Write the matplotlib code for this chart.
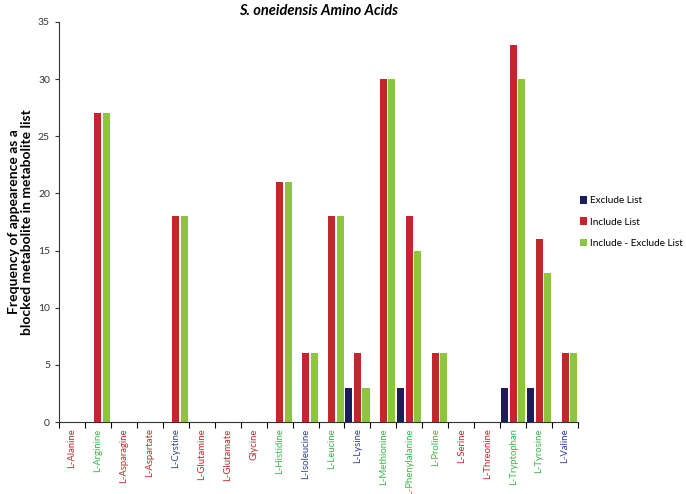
import matplotlib
matplotlib.use("Agg")
import matplotlib.pyplot as plt
import numpy as np

plt.rcParams['font.family'] = ['Lato', 'DejaVu Sans']

categories = ["L-Alanine", "L-Arginine", "L-Asparagine", "L-Aspartate", "L-Cystine",
              "L-Glutamine", "L-Glutamate", "Glycine", "L-Histidine", "L-Isoleucine",
              "L-Leucine", "L-Lysine", "L-Methionine", "L-Phenylalanine", "L-Proline",
              "L-Serine", "L-Threonine", "L-Tryptophan", "L-Tyrosine", "L-Valine"]
exclude = [0, 0, 0, 0, 0, 0, 0, 0, 0, 0, 0, 3, 0, 3, 0, 0, 0, 3, 3, 0]
include = [0, 27, 0, 0, 18, 0, 0, 0, 21, 6, 18, 6, 30, 18, 6, 0, 0, 33, 16, 6]
diff = [0, 27, 0, 0, 18, 0, 0, 0, 21, 6, 18, 3, 30, 15, 6, 0, 0, 30, 13, 6]
label_groups = ["r", "g", "r", "r", "b", "r", "r", "r", "g", "b",
                "g", "b", "g", "g", "g", "r", "r", "g", "g", "b"]

NAVY = "#1d1c5a"
RED = "#c1272d"
GREEN = "#8cc63f"
BLUE = "#2e3f91"
group_colors = {"r": RED, "g": "#39b54a", "b": BLUE}

fig = plt.figure(figsize=(6.86, 4.94), dpi=100)
ax = fig.add_axes([0.086, 0.1457, 0.7566, 0.8098])

x = np.arange(len(categories))
w = 0.27
ax.bar(x - 0.34, exclude, w, color=NAVY, label="Exclude List")
ax.bar(x, include, w, color=RED, label="Include List")
ax.bar(x + 0.33, diff, w, color=GREEN, label="Include - Exclude List")

ax.set_xlim(-0.5, len(categories) - 0.5)
ax.set_ylim(0, 35)
ax.set_yticks(np.arange(0, 36, 5))
ax.tick_params(axis='y', labelsize=7.5, length=3, colors='#333333')
ax.set_xticks(np.arange(-0.5, len(categories), 1.0))
ax.set_xticklabels([])
ax.tick_params(axis='x', length=4)
for i, (c, g) in enumerate(zip(categories, label_groups)):
    ax.text(i, -0.55, c, rotation=90, ha='center', va='top', fontsize=6.8,
            color=group_colors[g])
for s in ['top', 'right']:
    ax.spines[s].set_visible(False)
ax.spines['left'].set_color('#333333')
ax.spines['bottom'].set_color('#333333')

ax.set_ylabel("Frequency of appearence as a\nblocked metabolite in metabolite list",
              fontsize=10, fontweight='bold', linespacing=1.1)
ax.yaxis.set_label_coords(-0.05, 0.5)
ax.set_title("S. oneidensis Amino Acids", fontsize=10.5, fontweight='bold',
             style='italic', pad=5)

leg = ax.legend(loc='center left', bbox_to_anchor=(1.003, 0.5), frameon=False,
                fontsize=7.2, handlelength=0.75, handleheight=0.75, handletextpad=0.3,
                labelspacing=1.2, borderaxespad=0.0, borderpad=0.0)

fig.savefig("out.png", dpi=100)
